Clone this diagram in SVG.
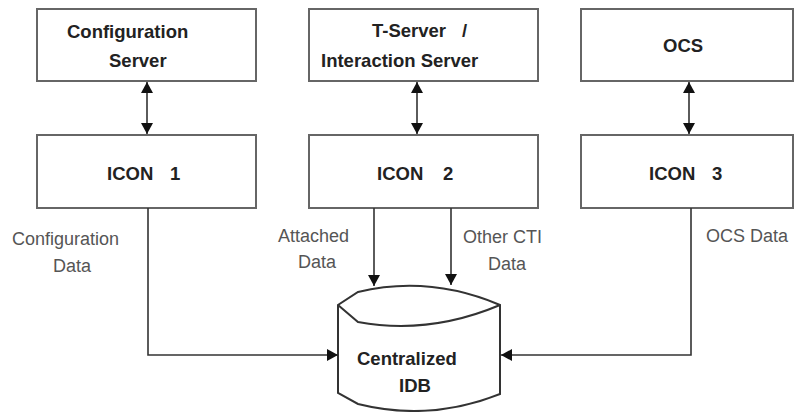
<svg xmlns="http://www.w3.org/2000/svg" width="794" height="412" viewBox="0 0 794 412">
<defs>
<style>
.box{fill:#fff;stroke:#666;stroke-width:2}
.ln{fill:none;stroke:#333;stroke-width:1.6}
.bt{font-family:"Liberation Sans",Arial,sans-serif;font-weight:bold;font-size:18.5px;fill:#222}
.lt{font-family:"Liberation Sans",Arial,sans-serif;font-size:18px;fill:#555}
</style>
<marker id="ah" viewBox="0 0 11 12" refX="11" refY="6" markerWidth="11" markerHeight="12" markerUnits="userSpaceOnUse" orient="auto-start-reverse">
<path d="M0,0 L11,6 L0,12 z" fill="#111"/>
</marker>
</defs>
<rect width="794" height="412" fill="#fff"/>
<g id="config-server">
<rect class="box" x="37" y="9" width="219" height="72"/>
<text class="bt" x="67" y="38">Configuration</text>
<text class="bt" x="109" y="67">Server</text>
</g>
<g id="tserver">
<rect class="box" x="309" y="9" width="229" height="72"/>
<text class="bt" x="372" y="37">T-Server<tspan x="462">/</tspan></text>
<text class="bt" x="321" y="67">Interaction Server</text>
</g>
<g id="ocs">
<rect class="box" x="581" y="9" width="212" height="72"/>
<text class="bt" x="663" y="52">OCS</text>
</g>
<g id="icon1">
<rect class="box" x="37" y="135" width="219" height="73"/>
<text class="bt" x="107" y="180">ICON<tspan x="170">1</tspan></text>
</g>
<g id="icon2">
<rect class="box" x="309" y="135" width="229" height="73"/>
<text class="bt" x="377" y="180">ICON<tspan x="443">2</tspan></text>
</g>
<g id="icon3">
<rect class="box" x="581" y="135" width="212" height="73"/>
<text class="bt" x="649" y="180">ICON<tspan x="712">3</tspan></text>
</g>
<g id="idb">
<path class="box" d="M358,292 Q429,275 500,305 L500,394 Q430,422 358,404 L338,393 L338,305 Z" style="stroke:#333;stroke-width:2"/>
<path class="ln" d="M338,305 L358,322 Q429,335 500,305" style="stroke-width:2"/>
<text class="bt" x="357" y="365">Centralized</text>
<text class="bt" x="399" y="392">IDB</text>
</g>
<g id="connectors">
<line class="ln" x1="147" y1="82" x2="147" y2="134" marker-start="url(#ah)" marker-end="url(#ah)"/>
<line class="ln" x1="417" y1="82" x2="417" y2="134" marker-start="url(#ah)" marker-end="url(#ah)"/>
<line class="ln" x1="689" y1="82" x2="689" y2="134" marker-start="url(#ah)" marker-end="url(#ah)"/>
<polyline class="ln" points="148,208 148,355 338,355" marker-end="url(#ah)"/>
<polyline class="ln" points="691,208 691,355 501,355" marker-end="url(#ah)"/>
<line class="ln" x1="374" y1="208" x2="374" y2="286" marker-end="url(#ah)"/>
<line class="ln" x1="451" y1="208" x2="451" y2="285" marker-end="url(#ah)"/>
</g>
<g id="labels">
<text class="lt" x="12" y="245">Configuration</text>
<text class="lt" x="53" y="272">Data</text>
<text class="lt" x="278" y="242">Attached</text>
<text class="lt" x="298" y="268">Data</text>
<text class="lt" x="463" y="243">Other CTI</text>
<text class="lt" x="488" y="270">Data</text>
<text class="lt" x="706" y="242">OCS Data</text>
</g>
</svg>
